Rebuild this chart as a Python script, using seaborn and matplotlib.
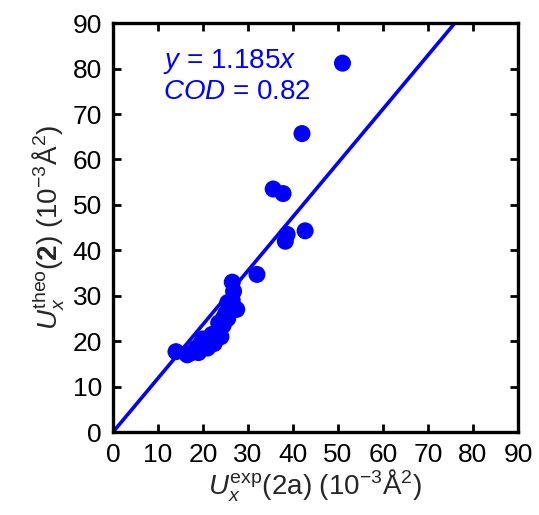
import matplotlib
matplotlib.use("Agg")
import matplotlib.pyplot as plt
import seaborn as sns
import numpy as np
import pandas as pd

u_exp = [51.0, 42.0, 35.6, 37.8, 38.7, 38.3, 42.7, 32.0,
         14.0, 16.5, 17.5, 18.5, 19.0, 19.5, 20.0, 21.0, 21.5, 22.0, 22.5,
         23.0, 23.5, 24.0, 24.5, 25.0, 25.5, 26.0, 26.5, 26.8, 26.5, 27.5,
         25.5, 24.5]
u_theo = [81.2, 65.7, 53.5, 52.5, 43.5, 42.0, 44.3, 34.7,
          17.7, 17.0, 17.5, 18.5, 17.5, 19.5, 20.5, 18.5, 20.0, 21.5, 19.5,
          22.0, 24.0, 21.0, 23.5, 26.0, 25.0, 27.5, 29.0, 31.0, 33.0, 27.0,
          28.5, 25.0]
slope = 1.185
cod = 0.82
ticks = list(range(0, 100, 10))

df = pd.DataFrame({"exp": u_exp, "theo": u_theo})

sns.set_theme(style="white")
plt.rcParams['font.family'] = ['Liberation Sans', 'DejaVu Sans']
plt.rcParams['mathtext.fontset'] = 'custom'
plt.rcParams['mathtext.rm'] = 'Liberation Sans'
plt.rcParams['mathtext.it'] = 'Liberation Sans:italic'
plt.rcParams['mathtext.bf'] = 'Liberation Sans:bold'

fig = plt.figure(figsize=(5.39, 5.15), dpi=100)
ax = fig.add_axes([0.2096, 0.161, 0.7514, 0.794])

xl = np.array([0, 90 / slope])
ax.plot(xl, slope * xl, color="#0000ff", lw=2.6, zorder=2)
sns.scatterplot(data=df, x="exp", y="theo", ax=ax, color="#0000ff", s=150,
                edgecolor="none", linewidth=0, zorder=3)

ax.set_xlim(0, 90)
ax.set_ylim(0, 90)
ax.set_xticks(ticks)
ax.set_yticks(ticks)
ax.tick_params(direction="in", length=6, width=2, top=True, right=True,
               bottom=True, left=True, labeltop=False, labelright=False,
               labelsize=19, colors="black", pad=8)
for sp in ax.spines.values():
    sp.set_color("black")
    sp.set_linewidth(2.4)

ax.set_xlabel(r"$U_x^{\mathrm{exp}}$(2a) (10$^{-3}$Å$^2$)", fontsize=20, labelpad=0)
ax.set_ylabel(r"$U_x^{\mathrm{theo}}$($\mathbf{2}$) (10$^{-3}$Å$^2$)", fontsize=20, labelpad=4)

ax.text(11.1, 81.6, r"$y$ = 1.185$x$", color="#0000ff", fontsize=20, va="center")
ax.text(11.1, 74.9, r"$COD$ = 0.82", color="#0000ff", fontsize=20, va="center")

fig.savefig("out.png", dpi=100)
